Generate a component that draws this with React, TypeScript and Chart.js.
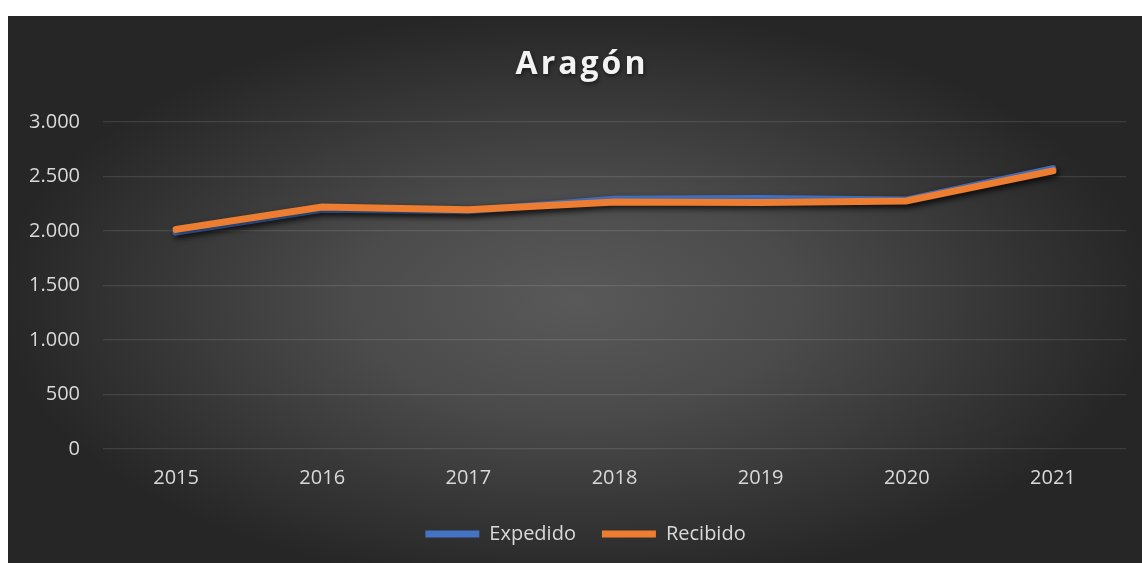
import React, { useEffect, useRef } from "react";
import { Chart, registerables } from "chart.js";

Chart.register(...registerables);

const TITLE = "Aragón";
const YEARS = ["2015", "2016", "2017", "2018", "2019", "2020", "2021"];
const EXPEDIDO = [1990, 2200, 2185, 2292, 2298, 2285, 2572];
const RECIBIDO = [2015, 2220, 2196, 2267, 2261, 2276, 2552];
const SERIES_NAMES = ["Expedido", "Recibido"];
const Y_MAX = 3000;
const Y_STEP = 500;

const FONT = "'Open Sans', 'DejaVu Sans', sans-serif";

const formatThousands = (v: number) =>
  String(v).replace(/\B(?=(\d{3})+(?!\d))/g, ".");

const titlePlugin = {
  id: "customTitle",
  afterDraw(chart: any) {
    const ctx = chart.ctx;
    ctx.save();
    ctx.font = `bold 32px ${FONT}`;
    (ctx as any).letterSpacing = "3px";
    ctx.textAlign = "center";
    ctx.textBaseline = "alphabetic";
    ctx.shadowColor = "rgba(0,0,0,0.55)";
    ctx.shadowBlur = 4;
    ctx.shadowOffsetX = 1;
    ctx.shadowOffsetY = 2;
    ctx.fillStyle = "#f2f2f2";
    ctx.fillText(TITLE, 574, 58);
    ctx.restore();
  },
};

const shadowPlugin = {
  id: "lineShadow",
  beforeDatasetDraw(chart: any) {
    const ctx = chart.ctx;
    ctx.save();
    ctx.shadowColor = "rgba(0,0,0,0.6)";
    ctx.shadowBlur = 6;
    ctx.shadowOffsetX = 2;
    ctx.shadowOffsetY = 3;
  },
  afterDatasetDraw(chart: any) {
    chart.ctx.restore();
  },
};

const legendShiftPlugin = {
  id: "legendShift",
  afterLayout(chart: any) {
    const lg = chart.legend;
    if (lg) {
      lg.left += 9;
      lg.right += 9;
    }
  },
};

export default function App() {
  const canvasRef = useRef<HTMLCanvasElement | null>(null);

  useEffect(() => {
    if (!canvasRef.current) return;
    const chart = new Chart(canvasRef.current, {
      type: "line",
      data: {
        labels: YEARS,
        datasets: [
          {
            label: SERIES_NAMES[0],
            data: EXPEDIDO,
            borderColor: "#4472C4",
            backgroundColor: "#4472C4",
            borderWidth: 7,
            borderCapStyle: "round",
            borderJoinStyle: "round",
            pointRadius: 0,
            tension: 0,
            order: 1,
          },
          {
            label: SERIES_NAMES[1],
            data: RECIBIDO,
            borderColor: "#ED7D31",
            backgroundColor: "#ED7D31",
            borderWidth: 7,
            borderCapStyle: "round",
            borderJoinStyle: "round",
            pointRadius: 0,
            tension: 0,
            order: 0,
          },
        ],
      },
      options: {
        animation: false,
        responsive: false,
        maintainAspectRatio: false,
        layout: { padding: { top: 106, left: 19, right: 16, bottom: 9 } },
        plugins: {
          title: { display: false },
          tooltip: { enabled: false },
          legend: {
            position: "bottom",
            labels: {
              usePointStyle: true,
              pointStyle: "line",
              pointStyleWidth: 54,
              padding: 26,
              color: "#d9d9d9",
              font: { family: FONT, size: 20 },
              sort: (a: any, b: any) => a.datasetIndex - b.datasetIndex,
            },
          },
        },
        scales: {
          x: {
            offset: true,
            grid: { display: false, drawTicks: false },
            border: { display: false },
            ticks: {
              color: "#d9d9d9",
              font: { family: FONT, size: 20 },
              padding: 17,
            },
            afterFit(scale: any) {
              scale.height -= 9;
            },
          },
          y: {
            min: 0,
            max: Y_MAX,
            grid: {
              color: "rgba(255,255,255,0.11)",
              lineWidth: 1.2,
              drawTicks: false,
            },
            border: { display: false },
            ticks: {
              stepSize: Y_STEP,
              color: "#d9d9d9",
              font: { family: FONT, size: 20 },
              padding: 23,
              callback: (v: any) => formatThousands(Number(v)),
            },
            afterFit(scale: any) {
              scale.width = 76;
            },
          },
        },
      },
      plugins: [titlePlugin, shadowPlugin, legendShiftPlugin],
    });
    return () => chart.destroy();
  }, []);

  return (
    <div
      style={{
        position: "fixed",
        left: 8,
        top: 16,
        width: 1134,
        height: 547,
        background:
          "radial-gradient(ellipse farthest-corner at 50% 52%, #595959 0%, #4b4b4b 28%, #262626 72%)",
      }}
    >
      <canvas ref={canvasRef} width={1134} height={547} style={{ display: "block" }} />
    </div>
  );
}
